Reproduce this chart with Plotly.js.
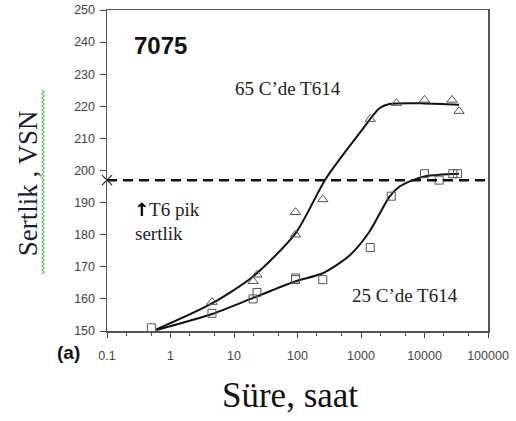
<!DOCTYPE html>
<html><head><meta charset="utf-8">
<script src="https://cdn.plot.ly/plotly-3.0.1.min.js"></script>
<style>html,body{margin:0;padding:0;background:#fff}#chart{width:516px;height:421px}</style>
</head><body><div id="chart"></div>
<script>
// Measured points, 65 C'de T614 (triangles)
var triX = [4.5, 20, 23, 93, 93, 250, 1400, 3600, 10000, 27000, 35000];
var triY = [159, 165.5, 167.5, 187, 180, 191, 216, 221, 222, 222, 218.5];
// Measured points, 25 C'de T614 (squares)
var sqX = [0.5, 4.5, 20, 23, 93, 93, 250, 1400, 3000, 10000, 17000, 28000, 33000];
var sqY = [151, 155.5, 160, 162, 166, 166.5, 166, 176, 192, 199, 197, 199, 199];
// Fitted curves
var triCurveX = [0.6, 4.5, 20, 93, 282, 1070, 1950, 2800, 10000, 35000];
var triCurveY = [150.5, 158.6, 167, 180.4, 197.6, 213, 219.4, 220.7, 220.9, 220.5];
var sqCurveX = [0.6, 4.5, 20, 93, 250, 660, 1365, 2800, 4060, 6600, 10700, 35000];
var sqCurveY = [150.3, 155.3, 160.3, 165.5, 168, 173.5, 181, 191.8, 195, 197, 198.3, 199];
// T6 peak hardness reference
var peakX = [0.1, 100000];
var peakY = [197, 197];
var xTickVals = [0.1, 1, 10, 100, 1000, 10000, 100000];
var xTickText = ['0.1', '1', '10', '100', '1000', '10000', '100000'];

var traces = [
  {x: triCurveX, y: triCurveY, mode: 'lines', line: {color: '#111', width: 2, shape: 'spline', smoothing: 0.7}, hoverinfo: 'skip'},
  {x: sqCurveX, y: sqCurveY, mode: 'lines', line: {color: '#111', width: 2, shape: 'spline', smoothing: 0.7}, hoverinfo: 'skip'},
  {x: triX, y: triY, mode: 'markers', marker: {symbol: 'triangle-up-open', size: 9, color: '#555', line: {width: 1}}},
  {x: sqX, y: sqY, mode: 'markers', marker: {symbol: 'square-open', size: 8, color: '#555', line: {width: 1}}},
  {x: peakX, y: peakY, mode: 'lines', line: {color: '#111', width: 2.5, dash: '10px,6px'}},
  {x: [peakX[0]], y: [peakY[0]], mode: 'markers', marker: {symbol: 'x-thin-open', size: 10, color: '#222', line: {width: 1.2, color: '#222'}}, cliponaxis: false}
];

// wavy underline decoration for the y title
var wav = 'M';
var x0 = 43, yTop = 90, yBot = 275;
for (var p = yTop, i = 0; p <= yBot; p += 2, i++) {
  var px = x0 + (i % 2 ? 1.5 : -1.5);
  wav += ((px - 107) / 381).toFixed(4) + ',' + ((331 - p) / 321).toFixed(4) + (p + 2 <= yBot ? ' L' : '');
}

var serif = 'Liberation Serif, Times New Roman, serif';
var sans = 'Liberation Sans, Arial, sans-serif';
var layout = {
  width: 516, height: 421,
  margin: {l: 107, r: 28, t: 10, b: 90},
  paper_bgcolor: '#fff', plot_bgcolor: '#fff',
  showlegend: false,
  font: {family: sans, size: 12, color: '#444'},
  xaxis: {
    type: 'log', range: [-1, 5], tickvals: xTickVals, ticktext: xTickText,
    ticks: 'outside', ticklen: 5, tickcolor: '#444', showgrid: false, zeroline: false,
    showline: true, linecolor: '#555', linewidth: 1.5, mirror: true,
    minor: {ticks: 'outside', ticklen: 3, tickcolor: '#555', showgrid: false},
    ticklabelstandoff: 7,
    tickfont: {size: 12.5, color: '#444'}
  },
  yaxis: {
    range: [150, 250], dtick: 10, ticks: 'outside', ticklen: 6, tickcolor: '#444',
    showgrid: false, zeroline: false, showline: true, linecolor: '#555', linewidth: 1.5, mirror: true,
    ticklabelstandoff: 2,
    tickfont: {size: 12.5, color: '#444'}
  },
  shapes: [
    {type: 'path', xref: 'paper', yref: 'paper', path: wav, line: {color: '#3cb043', width: 1}}
  ],
  annotations: [
    {text: '<b>7075</b>', x: -0.61, y: 239, xref: 'x', yref: 'y', xanchor: 'left', showarrow: false, font: {family: sans, size: 24, color: '#111'}},
    {text: '65 C’de T614', x: 1.846, y: 225.4, xref: 'x', yref: 'y', xanchor: 'center', showarrow: false, font: {family: serif, size: 19, color: '#222'}},
    {text: '<span style="font-family:DejaVu Sans;font-size:18px;font-weight:bold;color:#000">↑</span>T6 pik', x: -0.60, y: 188, xref: 'x', yref: 'y', xanchor: 'left', showarrow: false, font: {family: serif, size: 19, color: '#222'}},
    {text: 'sertlik', x: -0.59, y: 180.4, xref: 'x', yref: 'y', xanchor: 'left', showarrow: false, font: {family: serif, size: 19, color: '#222'}},
    {text: '25 C’de T614', x: 3.70, y: 161.2, xref: 'x', yref: 'y', xanchor: 'center', showarrow: false, font: {family: serif, size: 19, color: '#222'}},
    {text: '<b>(a)</b>', x: -0.102, y: -0.066, xref: 'paper', yref: 'paper', xanchor: 'center', yanchor: 'middle', showarrow: false, font: {family: sans, size: 19, color: '#111'}},
    {text: 'Sertlik , VSN', x: -0.207, y: 0.461, xref: 'paper', yref: 'paper', xanchor: 'center', yanchor: 'middle', textangle: -90, showarrow: false, font: {family: serif, size: 27, color: '#1a1a3a'}},
    {text: 'Süre, saat', x: 0.48, y: -0.202, xref: 'paper', yref: 'paper', xanchor: 'center', yanchor: 'middle', showarrow: false, font: {family: serif, size: 35, color: '#111'}}
  ]
};
Plotly.newPlot('chart', traces, layout, {displayModeBar: false, staticPlot: true});
</script></body></html>
